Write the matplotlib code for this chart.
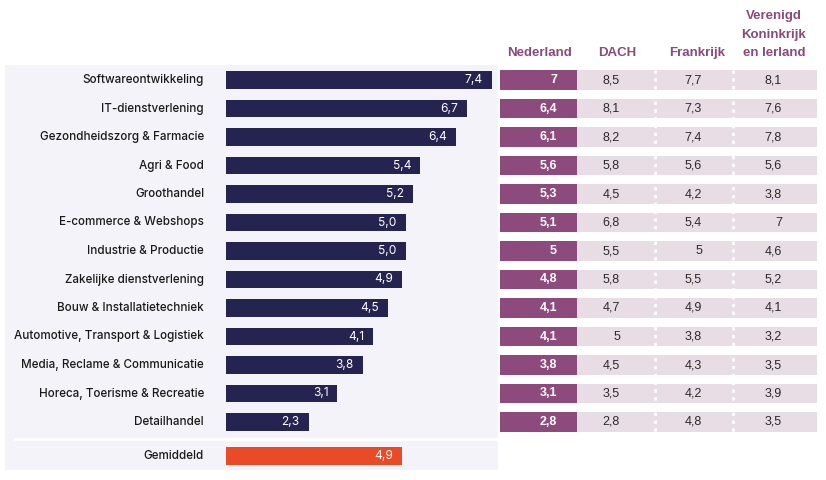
import matplotlib
matplotlib.use("Agg")
import matplotlib.pyplot as plt
from matplotlib.patches import Rectangle
import numpy as np

# ── Data ──────────────────────────────────────────────────────────────────────
sectors = [
    "Softwareontwikkeling", "IT-dienstverlening", "Gezondheidszorg & Farmacie",
    "Agri & Food", "Groothandel", "E-commerce & Webshops", "Industrie & Productie",
    "Zakelijke dienstverlening", "Bouw & Installatietechniek",
    "Automotive, Transport & Logistiek", "Media, Reclame & Communicatie",
    "Horeca, Toerisme & Recreatie", "Detailhandel",
]
scores = [7.4, 6.7, 6.4, 5.4, 5.2, 5.0, 5.0, 4.9, 4.5, 4.1, 3.8, 3.1, 2.3]
avg_label = "Gemiddeld"
avg_score = 4.9

regions = ["Nederland", "DACH", "Frankrijk", "Verenigd\nKoninkrijk\nen Ierland"]
nl = [7, 6.4, 6.1, 5.6, 5.3, 5.1, 5, 4.8, 4.1, 4.1, 3.8, 3.1, 2.8]
dach = [8.5, 8.1, 8.2, 5.8, 4.5, 6.8, 5.5, 5.8, 4.7, 5, 4.5, 3.5, 2.8]
fr = [7.7, 7.3, 7.4, 5.6, 4.2, 5.4, 5, 5.5, 4.9, 3.8, 4.3, 4.2, 4.8]
uk = [8.1, 7.6, 7.8, 5.6, 3.8, 7, 4.6, 5.2, 4.1, 3.2, 3.5, 3.9, 3.5]

# ── Style ─────────────────────────────────────────────────────────────────────
NAVY = "#25234f"
ORANGE = "#e94b27"
PURPLE = "#8c4b7c"
PINK = "#e8dde4"
PANEL = "#f4f3f9"
HEAD = "#8a4a7a"
LABEL_FONT = "Inter"
TABLE_FONT = "Liberation Sans"

W, H = 826, 480
ROW0, ROW_STEP = 80, 28.5          # pixel centre of first row, row pitch
PX_PER_UNIT = 35.95


def rect(x0, y0, x1, y1):
    return [x0 / W, 1 - y1 / H, (x1 - x0) / W, (y1 - y0) / H]


def nl_fmt(v, fixed=False):
    s = f"{v:.1f}" if fixed else f"{v:g}"
    return s.replace(".", ",")


fig = plt.figure(figsize=(W / 100, H / 100), dpi=100)
fig.patch.set_facecolor("white")

# background panel (pixel coords)
bg = fig.add_axes([0, 0, 1, 1], zorder=0)
bg.set_xlim(0, W)
bg.set_ylim(H, 0)
bg.axis("off")
bg.add_patch(Rectangle((5, 65), 493, 405, color=PANEL, lw=0))
bg.plot([15, 498], [439, 439], color="white", lw=2)

ys = np.arange(len(sectors))
y_avg = len(sectors) + 0.19
ylim = ((470 - ROW0) / ROW_STEP, (65 - ROW0) / ROW_STEP)

# ── Bars ──────────────────────────────────────────────────────────────────────
ax = fig.add_axes(rect(226, 65, 498, 470), zorder=1)
ax.patch.set_alpha(0)
ax.set_xlim(0, 272 / PX_PER_UNIT)
ax.set_ylim(*ylim)
ax.axis("off")

ax.barh(ys, scores, height=0.63, color=NAVY)
ax.barh([y_avg], [avg_score], height=0.63, color=ORANGE)

for y, name, v in zip(list(ys) + [y_avg], sectors + [avg_label], scores + [avg_score]):
    ax.annotate(name, xy=(0, y), xytext=(-22, 0), textcoords="offset pixels",
                ha="right", va="center", fontsize=8.4, family=LABEL_FONT,
                fontweight="medium", color="#1a1a1a", annotation_clip=False)
    ax.annotate(nl_fmt(v, fixed=True), xy=(v, y), xytext=(-9, 0),
                textcoords="offset pixels", ha="right", va="center",
                fontsize=8.6, family=LABEL_FONT, color="white")

# ── Table ─────────────────────────────────────────────────────────────────────
tx = fig.add_axes(rect(499, 65, 817, 470), zorder=1)
tx.patch.set_alpha(0)
tx.set_xlim(499, 817)
tx.set_ylim(*ylim)
tx.axis("off")

tx.barh(ys, 77, left=500, height=0.70, color=PURPLE)
tx.barh(ys, 240, left=577, height=0.70, color=PINK)
tx.vlines([655, 733], ys[0] - 0.35, ys[-1] + 0.35, colors="white",
          linestyles=(0, (1.2, 1.6)), lw=2)

col_right = [557, 620, 702, 782]
for col, vals in enumerate([nl, dach, fr, uk]):
    for y, v in zip(ys, vals):
        tx.text(col_right[col], y, nl_fmt(v), ha="right", va="center",
                fontsize=9, family=TABLE_FONT,
                fontweight="bold" if col == 0 else "normal",
                color="white" if col == 0 else "#2a2a2a")

head_x = [540, 617, 697, 774]
for x, name in zip(head_x, regions):
    bg.text(x, 56, name, ha="center", va="baseline", fontsize=9.5,
            family=TABLE_FONT, fontweight="bold", color=HEAD, linespacing=1.7)

fig.savefig("out.png", dpi=100, facecolor="white")
